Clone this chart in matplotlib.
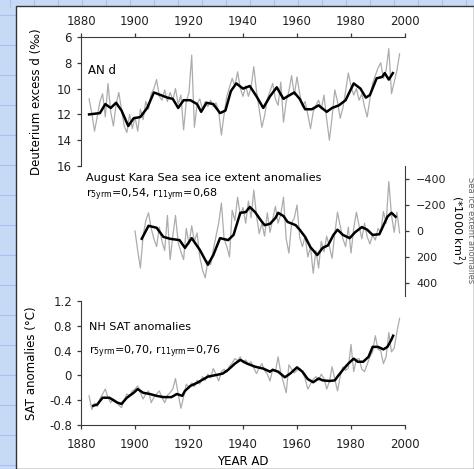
import numpy as np
import matplotlib
matplotlib.use("Agg")
import matplotlib.pyplot as plt
from matplotlib.patches import Rectangle
from matplotlib.lines import Line2D

# --- data ---
# AN d, deuterium excess (per mil), yearly 1883-1998
years_d = np.arange(1883, 1999)
d_annual = [10.8, 11.9, 13.3, 12.2, 11.0, 10.4, 12.2, 9.6, 11.8, 12.9,
            11.2, 10.3, 11.6, 12.9, 13.4, 12.0, 13.1, 12.2, 13.3, 11.6,
            12.4, 11.0, 11.6, 10.4, 10.0, 9.3, 10.6, 10.9, 10.1, 11.0,
            10.3, 10.9, 10.0, 11.2, 10.5, 13.2, 11.0, 10.3, 7.4, 13.0,
            11.2, 10.8, 11.6, 11.0, 11.4, 10.9, 11.4, 11.1, 11.8, 13.6,
            12.0, 10.6, 9.9, 9.2, 9.8, 8.7, 10.0, 10.6, 9.8, 10.6,
            9.9, 8.3, 10.2, 11.6, 13.0, 12.1, 10.8, 10.2, 9.6, 10.8,
            11.3, 9.5, 12.6, 11.0, 10.2, 9.0, 10.5, 9.1, 10.4, 11.4,
            11.0, 12.0, 13.1, 11.8, 11.3, 10.9, 11.6, 10.5, 12.4, 14.0,
            12.2, 10.1, 11.0, 12.3, 11.5, 10.2, 8.8, 9.8, 10.5, 10.0,
            10.9, 10.4, 11.4, 12.2, 10.8, 9.6, 9.0, 8.4, 8.0, 9.2,
            8.6, 6.9, 10.4, 9.5, 8.6, 7.3]
d_smooth_yr = [1883, 1887, 1889, 1891, 1893, 1895, 1897.5, 1899.5, 1902, 1904.5,
               1907, 1909.5, 1912, 1914, 1916, 1918, 1920.5, 1923, 1924.5, 1926.5,
               1929, 1931.5, 1933.5, 1935.5, 1937.5, 1940, 1942.5, 1945, 1947.5, 1950,
               1952.5, 1955, 1956.5, 1959, 1961, 1963, 1965.5, 1968, 1971, 1973,
               1975.5, 1978, 1981, 1983.5, 1985.5, 1987, 1989.5, 1991.5, 1992.5, 1994,
               1995.5]
d_smooth = [12.0, 11.9, 11.2, 11.5, 11.1, 11.7, 12.9, 12.3, 12.2, 11.5,
            10.3, 10.5, 10.7, 10.8, 11.5, 10.9, 10.9, 11.2, 11.8, 11.1,
            11.2, 11.9, 11.7, 10.2, 9.6, 10.0, 9.8, 10.6, 11.5, 10.6,
            9.9, 10.8, 10.6, 10.3, 10.8, 11.6, 11.6, 11.3, 11.8, 11.5,
            11.3, 10.9, 9.6, 10.0, 10.7, 10.5, 9.2, 9.1, 8.8, 9.3,
            8.8]

# August Kara Sea ice extent anomalies (*1000 km2), yearly 1900-1998
years_ice = np.arange(1900, 1999)
ice_annual = [0, 150, 285, 40, -80, -140, -20, 60, 120, -30,
              80, 150, -120, 220, 40, -120, 90, 160, 220, -20,
              100, -40, 80, 15, 200, 300, 360, 230, 260, 145,
              40, -60, -215, 60, 120, 200, -160, -80, -260, -120,
              -180, -60, -230, -100, -315, -120, 20, -60, 40, -140,
              10, -90, -190, -60, -130, -260, 60, 170, -60, -100,
              -200, 50, 120, 40, 200, 120, 325, 150, 285, 80,
              160, 40, 120, 210, 20, -145, -40, 60, 120, -30,
              170, -20, -145, -40, 60, -60, 45, 100, 30, 70,
              -20, 10, -150, -60, -380, -120, 10, -145, 15]
ice_smooth_yr = [1902.5, 1905, 1908, 1910.5, 1913, 1916.5, 1918.5, 1921, 1924, 1927,
                 1929, 1931.5, 1934.5, 1936.5, 1939, 1941, 1942.5, 1944.5, 1946.5, 1948,
                 1950, 1952, 1953, 1955, 1956.5, 1959.5, 1961, 1963, 1965, 1967.5,
                 1969.5, 1971.5, 1973.5, 1975, 1977, 1979.5, 1981.5, 1984, 1986, 1988,
                 1990.5, 1993.5, 1995, 1996.5]
ice_smooth = [60, -40, -25, 45, 60, 70, 130, 55, 145, 260,
              185, 55, 70, 30, -140, -145, -185, -145, -85, -45,
              -55, -100, -140, -115, -70, -45, -10, 45, 125, 185,
              130, 110, 30, -10, 30, 55, 10, -30, -10, 30,
              25, -110, -140, -110]

# NH SAT anomalies (deg C), yearly 1883-1998
years_sat = np.arange(1883, 1999)
sat_annual = [-0.33, -0.55, -0.45, -0.50, -0.38, -0.30, -0.22, -0.36, -0.44, -0.38,
              -0.42, -0.48, -0.52, -0.40, -0.30, -0.33, -0.25, -0.22, -0.17, -0.28,
              -0.38, -0.30, -0.25, -0.44, -0.35, -0.30, -0.25, -0.36, -0.44, -0.32,
              -0.28, -0.22, -0.05, -0.30, -0.53, -0.35, -0.14, -0.20, -0.12, -0.18,
              -0.08, -0.14, -0.02, -0.08, 0.02, -0.04, 0.11, 0.02, -0.09, 0.06,
              0.10, 0.05, 0.15, 0.20, 0.27, 0.24, 0.30, 0.20, 0.25, 0.18,
              0.22, 0.12, 0.03, 0.12, 0.19, 0.08, 0.02, -0.09, 0.10, 0.06,
              0.30, 0.04, -0.12, -0.28, 0.17, 0.10, 0.04, 0.08, 0.11, 0.06,
              -0.05, -0.22, -0.14, -0.06, -0.02, -0.08, 0.02, -0.05, -0.22, -0.10,
              0.14, -0.06, -0.25, -0.02, 0.14, 0.08, 0.12, 0.50, 0.06, 0.26,
              0.27, 0.10, 0.06, 0.18, 0.30, 0.38, 0.64, 0.42, 0.40, 0.19,
              0.30, 0.69, 0.38, 0.44, 0.70, 0.92]
sat_smooth_yr = [1884.5, 1886, 1888, 1890.5, 1893.5, 1895, 1897, 1899.5, 1901, 1903,
                 1905.5, 1908, 1910.5, 1913.5, 1915.5, 1917.5, 1918.5, 1920.5, 1923, 1925,
                 1927, 1930.5, 1932.5, 1934.5, 1937, 1939, 1941.5, 1944.5, 1947.5, 1950,
                 1951, 1953, 1955.5, 1957.5, 1960, 1962, 1964, 1966, 1968, 1969.5,
                 1972, 1974, 1975, 1977, 1979, 1981, 1982.5, 1984.5, 1986.5, 1988,
                 1990, 1992, 1993.5, 1995, 1995.6]
sat_smooth = [-0.49, -0.47, -0.36, -0.36, -0.44, -0.46, -0.36, -0.28, -0.22, -0.28,
              -0.30, -0.33, -0.35, -0.35, -0.30, -0.33, -0.25, -0.17, -0.12, -0.07,
              -0.02, 0.01, 0.03, 0.09, 0.19, 0.25, 0.19, 0.14, 0.11, 0.06,
              0.09, 0.06, -0.03, 0.03, 0.13, 0.06, -0.06, -0.11, -0.05, -0.08,
              -0.09, -0.08, -0.02, 0.09, 0.19, 0.27, 0.22, 0.22, 0.30, 0.46,
              0.46, 0.42, 0.46, 0.58, 0.64]

year_ticks = [1880, 1900, 1920, 1940, 1960, 1980, 2000]

W, H = 474, 469
fig = plt.figure(figsize=(W / 100, H / 100), dpi=100)
fig.patch.set_facecolor("#c6daf6")

def fx(x):
    return x / W

def fy(y):
    return 1 - y / H

# blue slide background with its grid, then the white sheet (behind the axes)
for gx in range(10, W, 24):
    fig.add_artist(Line2D([fx(gx), fx(gx)], [fy(0), fy(7)], color="#a7c2ec", lw=0.8, zorder=-20))
for gy in range(15, H, 30):
    fig.add_artist(Line2D([fx(0), fx(16)], [fy(gy), fy(gy)], color="#a7c2ec", lw=0.8, zorder=-20))
fig.add_artist(Rectangle((fx(16), 0), 1 - fx(16), fy(6), facecolor="white",
                         edgecolor="#333333", lw=1.0, transform=fig.transFigure, zorder=-10))

gray = "#acacac"
spine_c = "#3a3a3a"
fs = 8.5

def style(ax):
    ax.set_facecolor("none")
    ax.set_xlim(1880, 2000)
    for s in ax.spines.values():
        s.set_visible(False)
        s.set_color(spine_c)
    ax.tick_params(colors="#222222", labelsize=fs, length=3, width=0.9, color=spine_c)

# top panel: AN d
ax1 = fig.add_axes([fx(81), fy(166), fx(405) - fx(81), fy(37) - fy(166)])
style(ax1)
ax1.plot(years_d, d_annual, color=gray, lw=0.9)
ax1.plot(d_smooth_yr, d_smooth, color="black", lw=1.8)
ax1.set_ylim(16, 6)
ax1.set_yticks([6, 8, 10, 12, 14, 16])
ax1.set_xticks(year_ticks)
ax1.xaxis.tick_top()
ax1.spines["top"].set_visible(True)
ax1.spines["left"].set_visible(True)
ax1.set_ylabel("Deuterium excess d (‰)", fontsize=fs, labelpad=10)

# middle panel: Kara Sea ice
ax2 = fig.add_axes([fx(81), fy(296), fx(405) - fx(81), fy(166) - fy(296)])
style(ax2)
ax2.plot(years_ice, ice_annual, color=gray, lw=0.9)
ax2.plot(ice_smooth_yr, ice_smooth, color="black", lw=1.8)
ax2.set_ylim(500, -500)
ax2.set_yticks([-400, -200, 0, 200, 400])
ax2.set_xticks([])
ax2.yaxis.tick_right()
ax2.tick_params(axis="y", pad=5, labelsize=8)
ax2.spines["right"].set_visible(True)

# bottom panel: NH SAT
ax3 = fig.add_axes([fx(81), fy(425), fx(405) - fx(81), fy(301) - fy(425)])
style(ax3)
ax3.plot(years_sat, sat_annual, color=gray, lw=0.9)
ax3.plot(sat_smooth_yr, sat_smooth, color="black", lw=1.8)
ax3.set_ylim(-0.8, 1.2)
ax3.set_yticks([-0.8, -0.4, 0, 0.4, 0.8, 1.2])
ax3.set_yticklabels(["-0.8", "-0.4", "0", "0.4", "0.8", "1.2"])
ax3.set_xticks(year_ticks)
ax3.tick_params(axis="x", pad=6)
ax3.spines["left"].set_visible(True)
ax3.spines["bottom"].set_visible(True)
ax3.set_ylabel("SAT anomalies (°C)", fontsize=fs, labelpad=8)

# annotations
fig.text(fx(88), fy(71), "AN d", fontsize=fs, va="center")
fig.text(fx(86), fy(178), "August Kara Sea sea ice extent anomalies", fontsize=8, va="center")
fig.text(fx(86), fy(195), r"r$_{\mathrm{5yrm}}$=0,54, r$_{\mathrm{11yrm}}$=0,68", fontsize=8, va="center")
fig.text(fx(89), fy(327), "NH SAT anomalies", fontsize=8, va="center")
fig.text(fx(89), fy(352), r"r$_{\mathrm{5yrm}}$=0,70, r$_{\mathrm{11yrm}}$=0,76", fontsize=8, va="center")
fig.text(fx(458), fy(230), "(*1000 km$^2$)", fontsize=8, rotation=-90, ha="center", va="center")
fig.text(fx(470), fy(230), "Sea ice extent anomalies", fontsize=6, rotation=-90,
         ha="center", va="center", color="#666666")
fig.text(fx(243), fy(461), "YEAR AD", fontsize=fs, ha="center", va="center")

fig.savefig("out.png", dpi=100, facecolor=fig.get_facecolor())
